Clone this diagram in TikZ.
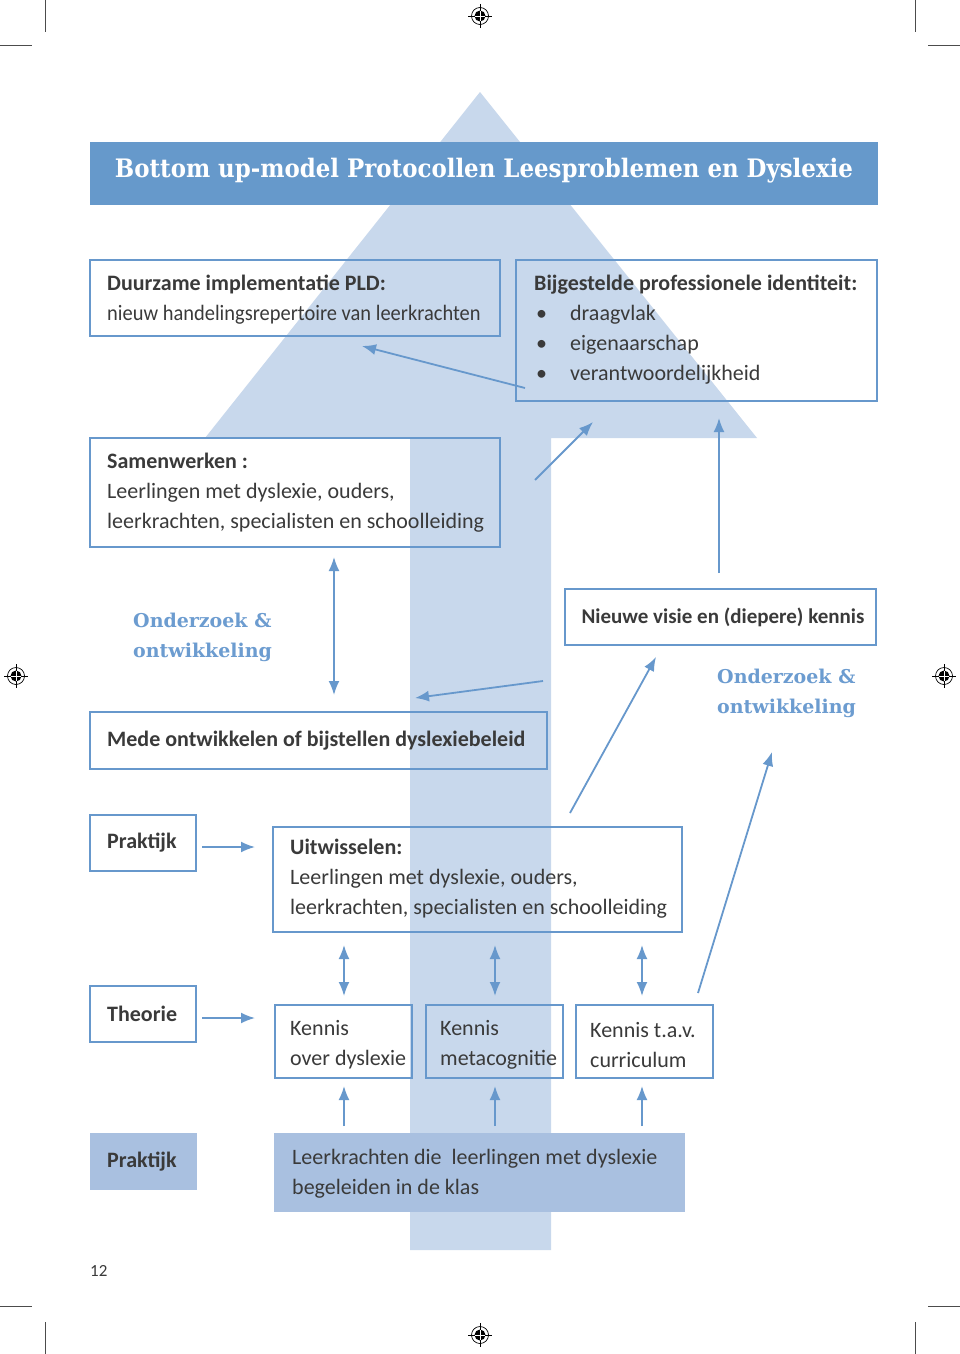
\documentclass[tikz,border=0pt]{standalone}
\usepackage{fontspec}
\usepackage{graphicx}
\setmainfont{Carlito}
\newfontfamily\slab{DejaVu Serif}
\newfontfamily\slabc{DejaVu Serif Condensed}
\usetikzlibrary{arrows.meta}
\definecolor{lineblue}{HTML}{6798CC}
\definecolor{titleblue}{HTML}{6699CB}
\definecolor{arrowlight}{HTML}{C8D8EC}
\definecolor{fillblue}{HTML}{A9C0E0}
\definecolor{textgray}{HTML}{3A3A3A}
\definecolor{labelblue}{HTML}{6C9CD0}
\tikzset{
  box/.style={draw=lineblue, line width=2.2pt, inner sep=0pt},
  fbox/.style={fill=fillblue, inner sep=0pt},
  txt/.style={align=left, inner sep=0pt, text=textgray, font=\fontsize{22}{30}\selectfont},
  lbl/.style={align=left, inner sep=0pt, text=labelblue, font=\slab\bfseries\fontsize{19}{30}\selectfont},
  conn/.style={draw=lineblue, line width=1.8pt, -{Latex[length=14pt,width=11pt]}},
  dconn/.style={draw=lineblue, line width=1.8pt, {Latex[length=14pt,width=11pt]}-{Latex[length=14pt,width=11pt]}},
  crop/.style={draw=black!70, line width=0.8pt},
  regmark/.pic={
    \draw[black, line width=0.7pt] (0,0) circle (8.5);
    \fill[black] (0,0) circle (5.5);
    \draw[black, line width=0.6pt] (-12,0) -- (12,0) (0,-12) -- (0,12);
    \draw[white, line width=0.6pt] (-5,0) -- (5,0) (0,-5) -- (0,5);
  }
}
\begin{document}
\begin{tikzpicture}[x=1pt,y=-1pt]
\useasboundingbox (0,0) rectangle (960,1354);
\fill[white] (0,0) rectangle (960,1354);

% crop marks
\draw[crop] (45,0) -- (45,32) (0,45) -- (32,45);
\draw[crop] (915,0) -- (915,32) (928,45) -- (960,45);
\draw[crop] (45,1322) -- (45,1354) (0,1306) -- (32,1306);
\draw[crop] (915,1322) -- (915,1354) (928,1306) -- (960,1306);
\pic at (480,16) {regmark};
\pic at (16,676) {regmark};
\pic at (944,676) {regmark};
\pic at (480,1335) {regmark};

% big background arrow
\fill[arrowlight] (480,92) -- (757,438) -- (551,438) -- (551,1250) -- (410,1250) -- (410,438) -- (205,438) -- cycle;

% title
\node[fill=titleblue, minimum width=788pt, minimum height=63pt, inner sep=0pt] (titlebar) at (484,173.5) {};
\node[text=white, inner sep=0pt] (titleT) at (484,171) {\resizebox{738pt}{!}{\slabc\bfseries Bottom up-model Protocollen Leesproblemen en Dyslexie}};

% row 1
\node[box, minimum width=410pt, minimum height=76pt] (dur) at (295,298) {};
\node[txt, anchor=west] (durT) at (107,300) {\textbf{Duurzame implementatie PLD:}\\\scalebox{0.93}[1]{nieuw handelingsrepertoire van leerkrachten}};
\node[box, minimum width=361pt, minimum height=141pt] (bij) at (696.5,330.5) {};
\node[txt, anchor=west] (bijT) at (534,329.5) {\textbf{Bijgestelde professionele identiteit:}\\
  \hspace*{2pt}\makebox[34pt][l]{•}draagvlak\\
  \hspace*{2pt}\makebox[34pt][l]{•}eigenaarschap\\
  \hspace*{2pt}\makebox[34pt][l]{•}verantwoordelijkheid};

% row 2
\node[box, minimum width=410pt, minimum height=109pt] (sam) at (295,492.5) {};
\node[txt, anchor=west] (samT) at (107,493) {\textbf{Samenwerken :}\\Leerlingen met dyslexie, ouders,\\leerkrachten, specialisten en schoolleiding};

% row 3
\node[lbl, anchor=west] (ondL) at (133,637) {Onderzoek \&\\ontwikkeling};
\node[box, minimum width=311pt, minimum height=56pt] (nieuw) at (720.5,617) {};
\node[txt, anchor=center, font=\fontsize{21}{30}\selectfont] (nieuwT) at (723,617) {\textbf{Nieuwe visie en (diepere) kennis}};
\node[lbl, anchor=west] (ondR) at (717,693) {Onderzoek \&\\ontwikkeling};
\node[box, minimum width=457pt, minimum height=57pt] (mede) at (318.5,740.5) {};
\node[txt, anchor=west] (medeT) at (107,741) {\textbf{Mede ontwikkelen of bijstellen dyslexiebeleid}};

% row 4
\node[box, minimum width=106pt, minimum height=56pt] (prak1) at (143,843) {};
\node[txt, anchor=west] (prak1T) at (107,843) {\textbf{Praktijk}};
\node[box, minimum width=409pt, minimum height=105pt] (uit) at (477.5,879.5) {};
\node[txt, anchor=west] (uitT) at (290,879) {\textbf{Uitwisselen:}\\Leerlingen met dyslexie, ouders,\\leerkrachten, specialisten en schoolleiding};

% row 5
\node[box, minimum width=106pt, minimum height=56pt] (theo) at (143,1014) {};
\node[txt, anchor=west] (theoT) at (107,1014) {\textbf{Theorie}};
\node[box, minimum width=137pt, minimum height=73pt] (k1) at (343.5,1041.5) {};
\node[txt, anchor=west] (k1T) at (290,1045) {Kennis\\over dyslexie};
\node[box, minimum width=137pt, minimum height=73pt] (k2) at (494.5,1041.5) {};
\node[txt, anchor=west] (k2T) at (440,1045) {Kennis\\metacognitie};
\node[box, minimum width=137pt, minimum height=73pt] (k3) at (644.5,1041.5) {};
\node[txt, anchor=west] (k3T) at (590,1045) {Kennis t.a.v.\\curriculum};

% row 6
\node[fbox, minimum width=107pt, minimum height=57pt] (prak2) at (143.5,1161.5) {};
\node[txt, anchor=west] (prak2T) at (107,1162) {\textbf{Praktijk}};
\node[fbox, minimum width=411pt, minimum height=79pt] (leer) at (479.5,1172.5) {};
\node[txt, anchor=west] (leerT) at (292,1174) {Leerkrachten die\ \ leerlingen met dyslexie\\begeleiden in de klas};

\node[inner sep=0pt, text=textgray, font=\fontsize{17}{20}\selectfont, anchor=west] (page) at (90,1271) {12};

% connector coordinates
\coordinate (a1s) at (525,388);  \coordinate (a1e) at (362,346);
\coordinate (a2s) at (535,480);  \coordinate (a2e) at (593,422);
\coordinate (a3s) at (719,573);  \coordinate (a3e) at (719,418);
\coordinate (a4s) at (334,557);  \coordinate (a4e) at (334,695);
\coordinate (a5s) at (543,681);  \coordinate (a5e) at (415,698);
\coordinate (a6s) at (570,813);  \coordinate (a6e) at (656,657);
\coordinate (a7s) at (698,993);  \coordinate (a7e) at (772,752);
\coordinate (a8s) at (202,847);  \coordinate (a8e) at (255,847);
\coordinate (a9s) at (202,1018); \coordinate (a9e) at (255,1018);
\coordinate (d1s) at (344,945);  \coordinate (d1e) at (344,996);
\coordinate (d2s) at (495,945);  \coordinate (d2e) at (495,996);
\coordinate (d3s) at (642,945);  \coordinate (d3e) at (642,996);
\coordinate (u1s) at (344,1126); \coordinate (u1e) at (344,1086);
\coordinate (u2s) at (495,1126); \coordinate (u2e) at (495,1086);
\coordinate (u3s) at (642,1126); \coordinate (u3e) at (642,1086);

\draw[conn] (a1s) -- (a1e);
\draw[conn] (a2s) -- (a2e);
\draw[conn] (a3s) -- (a3e);
\draw[dconn] (a4s) -- (a4e);
\draw[conn] (a5s) -- (a5e);
\draw[conn] (a6s) -- (a6e);
\draw[conn] (a7s) -- (a7e);
\draw[conn] (a8s) -- (a8e);
\draw[conn] (a9s) -- (a9e);
\draw[dconn] (d1s) -- (d1e);
\draw[dconn] (d2s) -- (d2e);
\draw[dconn] (d3s) -- (d3e);
\draw[conn] (u1s) -- (u1e);
\draw[conn] (u2s) -- (u2e);
\draw[conn] (u3s) -- (u3e);
\end{tikzpicture}
\end{document}
